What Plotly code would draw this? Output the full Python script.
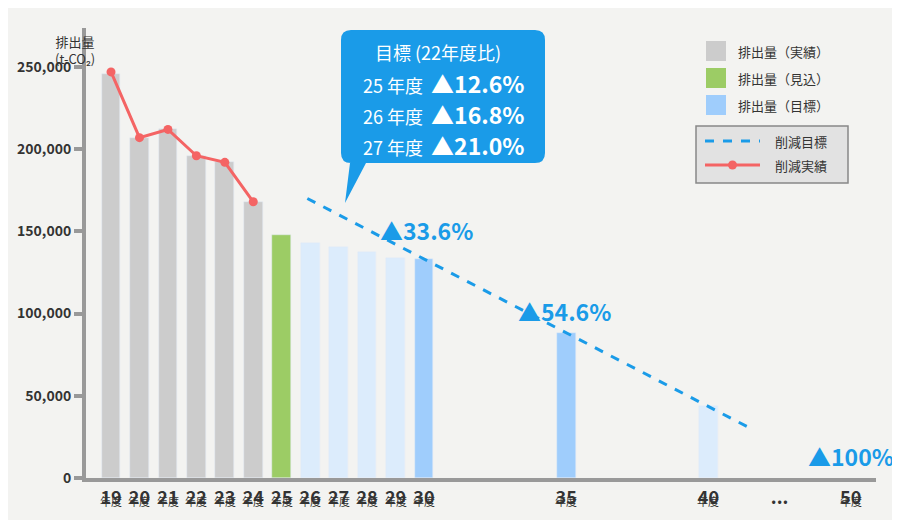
import plotly.graph_objects as go

# data
years = [19, 20, 21, 22, 23, 24, 25, 26, 27, 28, 29, 30, 35, 40]
emissions = [246000, 207000, 212000, 196000, 192000, 168000, 148000,
             143000, 140500, 137500, 134000, 133000, 88000, 44000]
bar_colors = ["#cccccc"] * 6 + ["#9ccc65"] + ["#dcecfc"] * 4 + ["#9fcdfc", "#9fcdfc", "#dcecfc"]
actual_years = [19, 20, 21, 22, 23, 24]
actual_values = [247000, 207000, 212000, 196000, 192000, 168000]
target_x = [25.9, 41.5]
target_y = [170000, 30000]
tick_pos = [19, 20, 21, 22, 23, 24, 25, 26, 27, 28, 29, 30, 35, 40, 42.5, 45]
tick_lbl = ["19", "20", "21", "22", "23", "24", "25", "26", "27", "28", "29", "30", "35", "40", "...", "50"]

X0, X1, Y0, Y1 = 18.12, 45.89, 0, 273700
L, R, T, B = 78, 868, 20, 470


def dx(px):
    return X0 + (px - L) / (R - L) * (X1 - X0)


def dy(py):
    return Y0 + (B - py) / (B - T) * (Y1 - Y0)


def py_paper(py):
    return (B - py) / (B - T)


fig = go.Figure()
fig.add_bar(x=years, y=emissions, marker_color=bar_colors, width=0.66, hoverinfo="skip")
fig.add_scatter(x=target_x, y=target_y, mode="lines",
                line=dict(color="#1a9be8", width=3, dash="dash"))
fig.add_scatter(x=actual_years, y=actual_values, mode="lines+markers",
                line=dict(color="#f46464", width=3), marker=dict(size=9, color="#f46464"))

shapes = []
anns = []
blue = "#1a9be8"

# callout box
bx0, bx1, by0, by1 = 333, 537, 22, 155
path = (f"M{dx(bx0+10)},{dy(by0)} L{dx(bx1-10)},{dy(by0)} Q{dx(bx1)},{dy(by0)} {dx(bx1)},{dy(by0+10)} "
        f"L{dx(bx1)},{dy(by1-10)} Q{dx(bx1)},{dy(by1)} {dx(bx1-10)},{dy(by1)} "
        f"L{dx(358)},{dy(by1)} L{dx(337)},{dy(195)} L{dx(342)},{dy(by1)} "
        f"L{dx(bx0+10)},{dy(by1)} Q{dx(bx0)},{dy(by1)} {dx(bx0)},{dy(by1-10)} "
        f"L{dx(bx0)},{dy(by0+10)} Q{dx(bx0)},{dy(by0)} {dx(bx0+10)},{dy(by0)} Z")
shapes.append(dict(type="path", path=path, xref="x", yref="y", fillcolor=blue, line_width=0))
anns.append(dict(x=dx(430), y=dy(44), text="目標 (22年度比)", font=dict(size=18, color="white")))
for i, (yr, pct) in enumerate([("25", "12.6%"), ("26", "16.8%"), ("27", "21.0%")]):
    anns.append(dict(x=dx(435), y=dy(75 + 31 * i),
                     text=f"{yr} 年度  <b><span style='font-size:23px'>▲{pct}</span></b>",
                     font=dict(size=18, color="white")))

for txt, px_, py_ in [("▲33.6%", 418, 222), ("▲54.6%", 556, 303), ("▲100%", 843, 448)]:
    anns.append(dict(x=dx(px_), y=dy(py_), text=f"<b>{txt}</b>", font=dict(size=23, color=blue)))

# legend
for i, (c, t) in enumerate([("#cccccc", "排出量（実績）"), ("#9ccc65", "排出量（見込）"), ("#9fcdfc", "排出量（目標）")]):
    yc = 43 + 27 * i
    shapes.append(dict(type="rect", x0=dx(698), x1=dx(718), y0=dy(yc - 10), y1=dy(yc + 10),
                       fillcolor=c, line_width=0))
    anns.append(dict(x=dx(728), y=dy(yc), text=t, xanchor="left", font=dict(size=13, color="#333")))
shapes.append(dict(type="rect", x0=dx(688), x1=dx(840), y0=dy(118), y1=dy(175),
                   fillcolor="#e2e2e2", line=dict(color="#888", width=1.5)))
shapes.append(dict(type="line", x0=dx(697), x1=dx(752), y0=dy(133), y1=dy(133),
                   line=dict(color=blue, width=3, dash="dash")))
shapes.append(dict(type="line", x0=dx(697), x1=dx(752), y0=dy(157), y1=dy(157),
                   line=dict(color="#f46464", width=3)))
shapes.append(dict(type="circle", x0=dx(720), x1=dx(729), y0=dy(152.5), y1=dy(161.5),
                   fillcolor="#f46464", line_width=0))
anns.append(dict(x=dx(765), y=dy(133), text="削減目標", xanchor="left", font=dict(size=13, color="#333")))
anns.append(dict(x=dx(765), y=dy(157), text="削減実績", xanchor="left", font=dict(size=13, color="#333")))

for a in anns:
    a.setdefault("xref", "x")
    a.setdefault("yref", "y")
    a["showarrow"] = False

# "年度" under each year tick
for p, t in zip(tick_pos, tick_lbl):
    if t == "...":
        continue
    anns.append(dict(x=p, y=py_paper(503), xref="x", yref="paper", text="年度", showarrow=False,
                     font=dict(size=11, color="#333")))

# y axis title
anns.append(dict(x=(45 - L) / (R - L), y=py_paper(22), xref="paper", yref="paper",
                 text="排出量<br>(t-CO₂)", showarrow=False, font=dict(size=13, color="#333")))

fig.update_layout(
    width=900, height=520, margin=dict(l=L, r=900 - R, t=T, b=520 - B, autoexpand=False),
    paper_bgcolor="#f3f3f1", plot_bgcolor="#f3f3f1", showlegend=False,
    font=dict(family="Noto Sans CJK JP, Roboto, sans-serif", color="#333"),
    shapes=shapes, annotations=anns, bargap=0,
)

fig.update_xaxes(range=[X0, X1], tickvals=tick_pos, ticktext=[f"<b>{t}</b>" for t in tick_lbl],
                 tickfont=dict(size=18, color="#333"), showgrid=False, zeroline=False,
                 showline=True, linecolor="#999", linewidth=4, ticks="", automargin=False)
fig.update_yaxes(range=[Y0, Y1], tickvals=[0, 50000, 100000, 150000, 200000, 250000],
                 ticktext=["<b>0</b>", "<b>50,000</b>", "<b>100,000</b>", "<b>150,000</b>",
                           "<b>200,000</b>", "<b>250,000</b>"],
                 tickfont=dict(size=14, color="#333"), showgrid=False, zeroline=False,
                 showline=True, linecolor="#999", linewidth=4, ticks="outside",
                 ticklen=8, tickwidth=4, tickcolor="#999", automargin=False)

fig.write_html("out.html")
